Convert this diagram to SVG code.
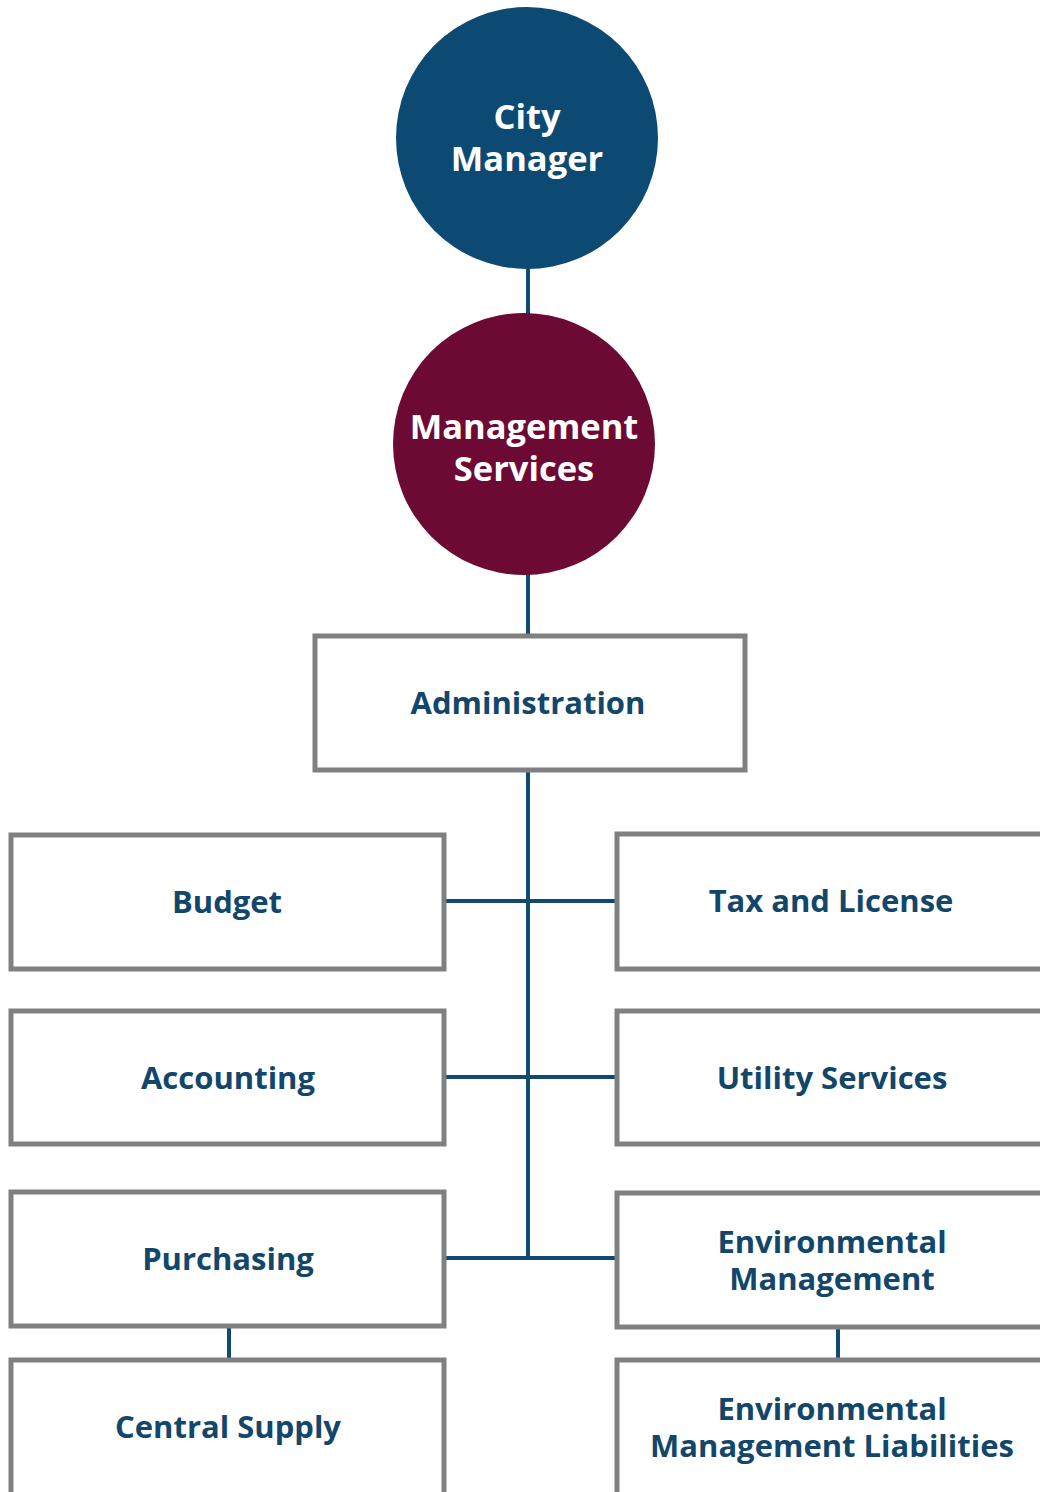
<svg xmlns="http://www.w3.org/2000/svg" width="1040" height="1492" viewBox="0 0 1040 1492">
<style>
.box{fill:#fff;stroke:#808080;stroke-width:5}
.lbl{font-family:"Open Sans",sans-serif;font-weight:700;font-size:31px;fill:#12476b;text-anchor:middle}
.clbl{font-family:"Open Sans",sans-serif;font-weight:700;font-size:34.5px;fill:#fff;text-anchor:middle}
.conn{stroke:#0e4a72;stroke-width:4;fill:none}
</style>
<rect width="1040" height="1492" fill="#fff"/>
<g id="connectors">
<line class="conn" x1="528" y1="266" x2="528" y2="316"/>
<line class="conn" x1="528" y1="572" x2="528" y2="634"/>
<line class="conn" x1="528" y1="771" x2="528" y2="1258"/>
<line class="conn" x1="445" y1="901" x2="615" y2="901"/>
<line class="conn" x1="445" y1="1077" x2="615" y2="1077"/>
<line class="conn" x1="445" y1="1258" x2="615" y2="1258"/>
<line class="conn" x1="229" y1="1327" x2="229" y2="1358"/>
<line class="conn" x1="838" y1="1328" x2="838" y2="1358"/>
</g>
<g id="city-manager">
<circle cx="527" cy="138" r="131" fill="#0c4a74"/>
<text class="clbl" x="527" y="129">City</text>
<text class="clbl" x="527" y="171">Manager</text>
</g>
<g id="management-services">
<circle cx="524" cy="444" r="131" fill="#6d0a34"/>
<text class="clbl" x="524" y="439">Management</text>
<text class="clbl" x="524" y="481">Services</text>
</g>
<g id="administration">
<rect class="box" x="315" y="636" width="430" height="134"/>
<text class="lbl" x="528" y="714">Administration</text>
</g>
<g id="budget">
<rect class="box" x="11" y="835" width="433" height="134"/>
<text class="lbl" x="227" y="913">Budget</text>
</g>
<g id="tax-and-license">
<rect class="box" x="617" y="834" width="430" height="135"/>
<text class="lbl" x="831" y="912">Tax and License</text>
</g>
<g id="accounting">
<rect class="box" x="11" y="1011" width="433" height="133"/>
<text class="lbl" x="228" y="1089">Accounting</text>
</g>
<g id="utility-services">
<rect class="box" x="617" y="1011" width="430" height="133"/>
<text class="lbl" x="832" y="1089">Utility Services</text>
</g>
<g id="purchasing">
<rect class="box" x="11" y="1192" width="433" height="134"/>
<text class="lbl" x="228" y="1270">Purchasing</text>
</g>
<g id="environmental-management">
<rect class="box" x="617" y="1193" width="430" height="134"/>
<text class="lbl" x="832" y="1253">Environmental</text>
<text class="lbl" x="832" y="1290">Management</text>
</g>
<g id="central-supply">
<rect class="box" x="11" y="1360" width="433" height="140"/>
<text class="lbl" x="228" y="1438">Central Supply</text>
</g>
<g id="environmental-management-liabilities">
<rect class="box" x="617" y="1360" width="430" height="140"/>
<text class="lbl" x="832" y="1420">Environmental</text>
<text class="lbl" x="832" y="1457">Management Liabilities</text>
</g>
</svg>
